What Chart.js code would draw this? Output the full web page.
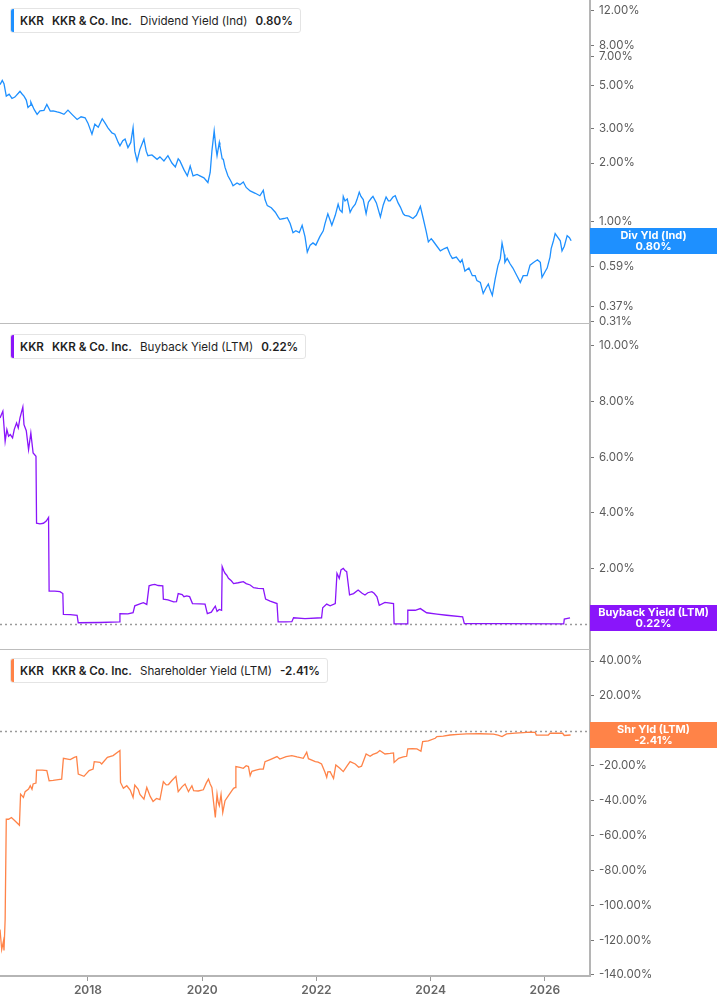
<!DOCTYPE html>
<html>
<head>
<meta charset="utf-8">
<script src="https://cdn.jsdelivr.net/npm/chart.js@4.4.0/dist/chart.umd.min.js"></script>
<style>
html,body{margin:0;padding:0;background:#fff;}
#wrap{position:relative;width:717px;height:1005px;overflow:hidden;}
canvas{position:absolute;left:0;top:0;}
.leg{position:absolute;left:10px;height:25px;box-sizing:border-box;border:1px solid #e4e4e4;border-radius:3px;background:#fff;
 display:flex;align-items:center;gap:8px;padding:0 7px 0 9px;font-family:Inter,'Noto Sans',sans-serif;font-size:11.6px;color:#1f1f1f;white-space:nowrap;overflow:hidden;}
.leg .bar{position:absolute;left:-1px;top:-1px;bottom:-1px;width:4px;border-radius:3px 0 0 3px;}
.leg b{font-weight:600;}
</style>
</head>
<body>
<div id="wrap">
<canvas id="c" width="717" height="1005"></canvas>
<div class="leg" id="leg1" style="top:8px"></div>
<div class="leg" id="leg2" style="top:334px"></div>
<div class="leg" id="leg3" style="top:658px"></div>
</div>
<script>
// ---------- DATA ----------
const ticker = "KKR";
const company = "KKR & Co. Inc.";
const seriesNames = ["Dividend Yield (Ind)", "Buyback Yield (LTM)", "Shareholder Yield (LTM)"];
const shortNames = ["Div Yld (Ind)", "Buyback Yield (LTM)", "Shr Yld (LTM)"];

const divYears = [2016.46,2016.50,2016.53,2016.57,2016.62,2016.67,2016.72,2016.78,2016.81,2016.85,2016.88,2016.92,2016.95,2016.99,2017.00,2017.06,2017.11,2017.16,2017.23,2017.28,2017.34,2017.39,2017.46,2017.51,2017.58,2017.65,2017.72,2017.81,2017.88,2017.95,
2018.00,2018.07,2018.12,2018.18,2018.25,2018.30,2018.35,2018.42,2018.47,2018.53,2018.56,2018.61,2018.65,2018.70,2018.75,2018.79,2018.82,2018.86,2018.91,2018.98,
2019.02,2019.05,2019.12,2019.21,2019.26,2019.33,2019.40,2019.47,2019.53,2019.58,2019.61,2019.68,2019.74,2019.79,2019.84,2019.91,2019.96,
2020.03,2020.10,2020.14,2020.17,2020.21,2020.24,2020.26,2020.30,2020.31,2020.35,2020.37,2020.40,2020.45,2020.51,2020.54,2020.61,2020.66,2020.72,2020.77,2020.84,2020.93,
2021.01,2021.07,2021.10,2021.14,2021.21,2021.28,2021.33,2021.36,2021.43,2021.49,2021.54,2021.59,2021.64,2021.70,2021.75,2021.80,2021.84,2021.89,2021.94,2021.99,
2022.06,2022.12,2022.15,2022.20,2022.24,2022.27,2022.33,2022.38,2022.41,2022.45,2022.47,2022.50,2022.54,2022.59,2022.63,2022.68,2022.71,2022.75,2022.78,2022.82,2022.87,2022.91,2022.96,2022.99,
2023.05,2023.12,2023.17,2023.22,2023.26,2023.29,2023.34,2023.38,2023.43,2023.47,2023.52,2023.55,2023.62,2023.69,2023.75,2023.82,2023.87,2023.92,2023.96,
2024.01,2024.04,2024.11,2024.17,2024.24,2024.29,2024.34,2024.38,2024.45,2024.52,2024.55,2024.60,2024.67,2024.73,2024.78,2024.81,2024.87,2024.92,2024.97,
2025.01,2025.04,2025.08,2025.13,2025.18,2025.22,2025.25,2025.29,2025.30,2025.34,2025.39,2025.44,2025.51,2025.57,2025.62,2025.69,2025.74,2025.80,2025.87,2025.92,2025.95,
2026.01,2026.04,2026.09,2026.11,2026.15,2026.18,2026.23,2026.27,2026.30,2026.34,2026.39,2026.43,2026.46];
const divValues = [5.04,5.30,5.10,4.40,4.50,4.28,4.35,4.55,4.66,4.50,4.40,4.20,3.85,3.95,4.10,3.75,3.55,3.70,3.72,3.99,3.69,3.70,3.65,3.62,3.55,3.73,3.55,3.34,3.45,3.41,
3.20,2.81,3.16,3.05,3.37,3.20,3.03,2.85,2.81,2.55,2.45,2.60,2.65,2.40,2.55,3.03,2.30,2.05,2.35,2.65,
2.30,2.18,2.20,2.09,2.15,2.05,2.18,2.00,1.91,2.10,2.05,1.85,1.72,1.93,1.72,1.75,1.72,
1.68,1.59,1.79,2.30,2.92,2.40,2.18,2.55,2.45,2.10,2.09,1.90,1.72,1.60,1.53,1.58,1.55,1.60,1.50,1.44,1.40,
1.36,1.45,1.30,1.21,1.18,1.12,1.06,1.03,1.04,1.05,0.98,0.88,0.90,0.88,0.96,0.84,0.70,0.76,0.78,0.76,
0.84,0.90,0.98,1.10,1.02,0.96,1.08,1.23,1.15,1.12,1.35,1.28,1.31,1.12,1.18,1.23,1.30,1.42,1.35,1.30,1.10,1.26,1.32,1.35,
1.25,1.06,1.22,1.34,1.28,1.28,1.34,1.36,1.25,1.19,1.10,1.08,1.07,1.04,1.08,1.20,1.04,0.90,0.79,
0.82,0.80,0.75,0.71,0.73,0.74,0.68,0.65,0.66,0.62,0.64,0.56,0.58,0.53,0.53,0.50,0.49,0.43,0.46,
0.48,0.45,0.42,0.51,0.60,0.65,0.78,0.68,0.62,0.65,0.61,0.58,0.53,0.49,0.53,0.53,0.60,0.62,0.64,0.62,0.52,
0.56,0.58,0.66,0.73,0.80,0.87,0.83,0.80,0.71,0.75,0.85,0.83,0.80];

const buyYears = [2016.46,2016.51,2016.55,2016.58,2016.61,2016.64,2016.68,2016.71,2016.75,2016.78,2016.81,2016.86,2016.88,2016.92,2016.96,2017.00,2017.04,2017.09,
2017.10,2017.16,2017.22,2017.27,2017.31,2017.32,2017.42,2017.51,2017.56,2017.57,2017.69,2017.81,2017.83,2018.21,2018.55,2018.56,2018.70,2018.79,2018.82,2018.91,2018.97,
2019.03,2019.07,2019.12,2019.17,2019.23,2019.31,2019.32,2019.40,2019.50,2019.55,2019.58,2019.65,2019.68,2019.73,2019.78,2019.83,2019.96,
2020.05,2020.09,2020.16,2020.20,2020.23,2020.26,2020.30,2020.34,2020.35,2020.38,2020.40,2020.43,2020.46,2020.51,2020.55,2020.63,2020.72,2020.77,2020.84,2020.90,2020.98,
2021.07,2021.11,2021.19,2021.31,2021.33,2021.45,2021.57,2021.60,2021.80,
2022.09,2022.11,2022.18,2022.24,2022.33,2022.36,2022.40,2022.43,2022.47,2022.50,2022.53,2022.58,2022.65,2022.73,2022.80,2022.85,2022.90,2022.97,
2023.01,2023.06,2023.10,2023.20,2023.35,2023.36,2023.59,2023.60,2023.73,2023.82,2023.93,
2024.11,2024.28,2024.56,2024.59,2025.22,2026.33,2026.34,2026.44];
const buyValues = [7.41,7.65,6.57,6.99,6.75,6.81,6.69,7.00,7.23,7.05,7.41,7.80,7.17,6.95,6.27,6.87,6.15,6.03,
3.62,3.60,3.62,3.70,3.83,1.18,1.18,1.16,1.09,0.34,0.33,0.31,0.04,0.05,0.07,0.37,0.36,0.40,0.65,0.72,0.76,
0.70,1.37,1.40,1.42,1.38,1.37,0.89,0.86,0.79,0.80,1.09,1.05,0.98,1.01,0.98,0.73,0.72,
0.71,0.37,0.42,0.55,0.64,0.45,0.52,0.49,2.06,1.90,1.82,1.75,1.64,1.55,1.45,1.48,1.52,1.45,1.40,1.30,1.28,
1.27,0.89,0.82,0.73,0.07,0.07,0.08,0.22,0.19,
0.22,0.58,0.71,0.65,0.73,1.82,1.64,1.94,2.00,1.92,1.88,1.04,1.09,1.22,1.10,1.04,1.12,1.16,
1.10,0.97,0.67,0.77,0.73,0.00,0.00,0.49,0.49,0.55,0.40,
0.35,0.31,0.25,0.01,0.01,0.00,0.17,0.22];

const shrYears = [2016.46,2016.49,2016.52,2016.53,2016.55,2016.57,2016.61,2016.66,2016.72,2016.80,2016.82,2016.87,2016.90,2016.96,2016.99,2017.02,2017.04,2017.09,
2017.10,2017.20,2017.28,2017.32,2017.39,2017.48,2017.54,2017.57,2017.69,2017.76,2017.80,2017.83,2017.93,
2018.02,2018.09,2018.11,2018.21,2018.24,2018.34,2018.44,2018.56,2018.57,2018.62,2018.68,2018.74,2018.79,2018.82,2018.88,2018.91,2018.98,
2019.03,2019.09,2019.14,2019.20,2019.26,2019.32,2019.37,2019.41,2019.47,2019.54,2019.58,2019.65,2019.70,2019.76,2019.82,2019.85,2019.93,
2020.02,2020.07,2020.11,2020.14,2020.17,2020.20,2020.23,2020.26,2020.28,2020.30,2020.33,2020.36,2020.40,2020.46,2020.52,2020.55,2020.58,2020.59,2020.66,2020.72,2020.77,2020.81,2020.84,2020.87,2020.94,
2021.01,2021.07,2021.10,2021.19,2021.31,2021.36,2021.47,2021.57,2021.66,2021.77,2021.83,2021.86,2021.92,2021.98,
2022.03,2022.09,2022.15,2022.18,2022.20,2022.24,2022.30,2022.34,2022.41,2022.47,2022.54,2022.59,2022.68,2022.74,2022.79,2022.87,2022.94,2022.99,
2023.06,2023.11,2023.20,2023.29,2023.35,2023.36,2023.44,2023.52,2023.58,2023.60,2023.68,2023.76,2023.83,2023.86,2023.96,
2024.08,2024.11,2024.22,2024.34,2024.48,2024.63,2024.87,2025.10,2025.18,2025.25,2025.33,2025.48,2025.62,2025.74,2025.83,2025.85,2025.95,
2026.06,2026.09,2026.20,2026.31,2026.34,2026.45];
const shrValues = [-113.9,-125.4,-120.6,-126.0,-108.2,-50.7,-50.7,-49.7,-51.6,-54.1,-36.3,-38.2,-34.9,-33.4,-31.5,-33.5,-30.5,-30.0,
-22.5,-22.6,-22.8,-28.6,-28.4,-28.0,-27.7,-15.8,-16.5,-15.2,-14.8,-24.8,-26.1,
-22.8,-21.9,-17.7,-18.1,-19.0,-15.2,-14.2,-11.3,-29.6,-33.0,-31.5,-34.0,-38.2,-31.1,-33.5,-36.5,-39.2,
-32.5,-37.6,-40.5,-38.8,-39.5,-29.2,-31.0,-30.8,-28.5,-26.1,-34.9,-32.0,-30.5,-34.9,-31.5,-34.3,-34.5,
-33.8,-30.0,-27.7,-30.5,-32.5,-41.1,-49.7,-36.3,-41.0,-43.0,-36.5,-46.8,-40.1,-37.2,-34.3,-33.0,-32.5,-20.5,-21.0,-21.5,-20.0,-20.5,-25.7,-23.2,-22.5,
-22.0,-21.9,-17.7,-16.5,-14.8,-16.2,-14.8,-14.2,-15.0,-15.8,-12.3,-16.0,-16.8,-17.7,
-18.0,-19.0,-23.8,-26.7,-23.5,-23.4,-27.3,-19.6,-21.5,-23.4,-20.0,-17.7,-19.0,-20.9,-20.3,-13.3,-14.6,-13.5,
-12.7,-11.3,-13.3,-13.0,-12.7,-18.1,-15.8,-15.0,-14.6,-10.4,-10.3,-10.4,-11.7,-6.2,-5.8,
-4.3,-3.3,-3.1,-2.4,-2.1,-1.8,-1.7,-1.9,-2.5,-3.3,-1.8,-1.3,-1.0,-0.8,-0.9,-2.4,-2.5,
-2.4,-1.4,-1.3,-1.4,-2.7,-2.41];

const divTicks = [0.31, 0.37, 0.59, 0.81, 1, 2, 3, 5, 7, 8, 12];
const buyTicks = [0, 2, 4, 6, 8, 10];
const shrTicks = [-140, -120, -100, -80, -60, -40, -20, 0, 20, 40];
const yearTicks = [2018, 2020, 2022, 2024, 2026];

// ---------- STYLE ----------
const colors = ["rgb(30,144,255)", "rgb(138,21,250)", "rgb(255,131,72)"];
const FONT = "Inter, 'Noto Sans', sans-serif";

function pts(xs, ys){ return xs.map((x,i)=>({x:x, y:ys[i]})); }
function fmt(v){ return v.toFixed(2) + '%'; }

// legends
const lastVals = [divValues[divValues.length-1], buyValues[buyValues.length-1], shrValues[shrValues.length-1]];
['leg1','leg2','leg3'].forEach((id,i)=>{
  const el = document.getElementById(id);
  el.innerHTML = '<span class="bar" style="background:'+colors[i]+'"></span><b>'+ticker+'</b><b>'+company.replace('&','&amp;')+'</b><span>'+seriesNames[i]+'</span><b>'+fmt(lastVals[i])+'</b>';
});

function yAxis(extra){
  return Object.assign({
    position: 'right',
    stack: 'panels',
    border: {display: true, color: '#b5b5b5', width: 2},
    grid: {display: true, drawOnChartArea: false, drawTicks: true, tickLength: 4, color: '#777', tickWidth: 1},
    ticks: {color: '#5a5a5a', font: {family: FONT, size: 11.5}, padding: 5, callback: (v)=>fmt(v), autoSkip: false},
    afterFit: (s)=>{ s.width = 127; s.paddingTop = 0; s.paddingBottom = 0; }
  }, extra);
}

const sepPlugin = {
  id: 'seps',
  beforeDatasetsDraw(chart){
    const ctx = chart.ctx, ca = chart.chartArea;
    ctx.save();
    ctx.strokeStyle = '#bdbdbd'; ctx.lineWidth = 1;
    ['yDiv','yBuy'].forEach(id=>{
      const b = Math.round(chart.scales[id].bottom) - 0.5;
      ctx.beginPath(); ctx.moveTo(ca.left, b); ctx.lineTo(ca.right, b); ctx.stroke();
    });
    ctx.strokeStyle = '#9a9a9a'; ctx.lineWidth = 1.5; ctx.setLineDash([2,3]);
    ['yBuy','yShr'].forEach(id=>{
      const y = Math.round(chart.scales[id].getPixelForValue(0)) + 0.5;
      ctx.beginPath(); ctx.moveTo(ca.left, y); ctx.lineTo(ca.right, y); ctx.stroke();
    });
    ctx.restore();
  },
  afterDraw(chart){
    const ctx = chart.ctx, ca = chart.chartArea;
    ctx.save();
    ['yDiv','yBuy','yShr'].forEach((id,i)=>{
      const y = chart.scales[id].getPixelForValue(lastVals[i]);
      const x0 = ca.right, w = chart.width - ca.right;
      ctx.fillStyle = colors[i];
      ctx.fillRect(x0, Math.round(y - 13), w, 26);
      ctx.fillStyle = '#fff';
      ctx.font = '700 11px ' + FONT;
      ctx.textAlign = 'center'; ctx.textBaseline = 'middle';
      ctx.fillText(shortNames[i], x0 + w/2, y - 5.5);
      ctx.fillText(fmt(lastVals[i]), x0 + w/2, y + 6);
    });
    ctx.restore();
  }
};

const ds = (xs, ys, i, axis)=>({
  data: pts(xs, ys), yAxisID: axis, xAxisID: 'x',
  borderColor: colors[i], borderWidth: 1.3, pointRadius: 0, tension: 0, fill: false
});

new Chart(document.getElementById('c'), {
  type: 'line',
  data: { datasets: [ ds(divYears, divValues, 0, 'yDiv'), ds(buyYears, buyValues, 1, 'yBuy'), ds(shrYears, shrValues, 2, 'yShr') ] },
  options: {
    responsive: false, animation: false, devicePixelRatio: 1,
    layout: {padding: 0},
    plugins: {legend: {display: false}, tooltip: {enabled: false}},
    scales: {
      x: {
        type: 'linear', position: 'bottom', min: 2016.46, max: 2026.79,
        border: {display: true, color: '#b5b5b5', width: 2},
        grid: {display: true, drawOnChartArea: false, drawTicks: true, tickLength: 5, color: '#999'},
        ticks: {color: '#666', font: {family: FONT, size: 12, weight: '600'}, padding: 2, callback: (v)=>String(v), maxRotation: 0},
        afterBuildTicks: (s)=>{ s.ticks = yearTicks.map(v=>({value: v})); },
        afterFit: (s)=>{ s.height = 29; s.paddingLeft = 0; s.paddingRight = 0; }
      },
      yDiv: yAxis({type: 'logarithmic', min: 0.31, max: 13.66, stackWeight: 323,
        afterBuildTicks: (s)=>{ s.ticks = divTicks.map(v=>({value: v})); }}),
      yBuy: yAxis({type: 'linear', min: -0.94, max: 10.79, stackWeight: 325,
        afterBuildTicks: (s)=>{ s.ticks = buyTicks.map(v=>({value: v})); }}),
      yShr: yAxis({type: 'linear', min: -140.58, max: 46.33, stackWeight: 325,
        afterBuildTicks: (s)=>{ s.ticks = shrTicks.map(v=>({value: v})); }})
    }
  },
  plugins: [sepPlugin]
});
</script>
</body>
</html>
